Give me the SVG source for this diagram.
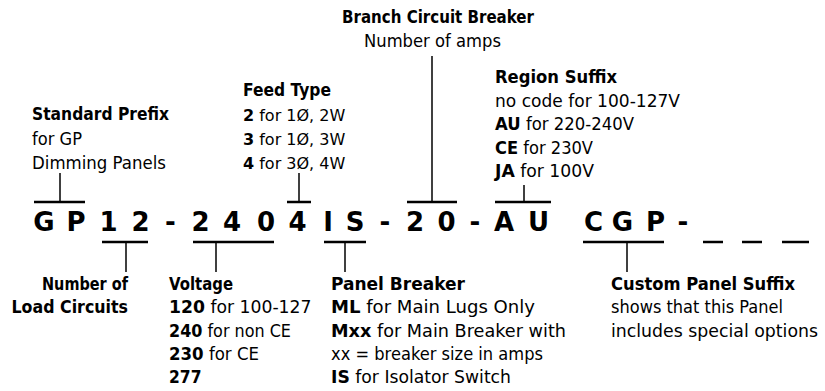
<svg xmlns="http://www.w3.org/2000/svg" width="825" height="391" viewBox="0 0 825 391">
<style>
text{font-family:"DejaVu Sans","Liberation Sans",sans-serif;font-size:17px;fill:#000}
.b{font-weight:bold}
.s{font-size:16px}
.code{font-family:"DejaVu Sans","Liberation Sans",sans-serif;font-size:26px;font-weight:bold;text-anchor:middle}
.bar{stroke:#000;stroke-width:2.5;fill:none}
.tick{stroke:#000;stroke-width:1.5;fill:none}
.r{text-anchor:end}
</style>
<rect width="825" height="391" fill="#fff"/>
<g id="connectors">
<line class="bar" x1="34" y1="202" x2="85" y2="202"/>
<line class="bar" x1="102" y1="242" x2="148" y2="242"/>
<line class="bar" x1="193" y1="242" x2="274" y2="242"/>
<line class="bar" x1="287" y1="202" x2="311" y2="202"/>
<line class="bar" x1="324" y1="242" x2="366" y2="242"/>
<line class="bar" x1="407" y1="202" x2="457" y2="202"/>
<line class="bar" x1="495" y1="202" x2="551" y2="202"/>
<line class="bar" x1="583" y1="242" x2="664" y2="242"/>
<line class="bar" x1="703" y1="242" x2="723" y2="242"/>
<line class="bar" x1="742" y1="242" x2="762" y2="242"/>
<line class="bar" x1="782" y1="242" x2="809" y2="242"/>
<line class="tick" x1="60" y1="173" x2="60" y2="202"/>
<line class="tick" x1="299" y1="173" x2="299" y2="202"/>
<line class="tick" x1="432" y1="56" x2="432" y2="202"/>
<line class="tick" x1="524" y1="185" x2="524" y2="202"/>
<line class="tick" x1="126" y1="242" x2="126" y2="272"/>
<line class="tick" x1="216" y1="242" x2="216" y2="272"/>
<line class="tick" x1="345" y1="242" x2="345" y2="272"/>
<line class="tick" x1="627" y1="242" x2="627" y2="272"/>
</g>
<g id="code">
<text class="code" x="44 76 108.5 140.5 170.5 200.5 232 266 297.5 328 355 385 415 446.5 475 504 538.5 593.5 622.5 655.5 683" y="231">GP12-2404IS-20-AUCGP-</text>
</g>
<g id="standard-prefix">
<text class="b" x="32" y="120" textLength="137" lengthAdjust="spacingAndGlyphs">Standard Prefix</text>
<text x="32" y="145" textLength="50" lengthAdjust="spacingAndGlyphs">for GP</text>
<text x="32" y="169" textLength="134" lengthAdjust="spacingAndGlyphs">Dimming Panels</text>
</g>
<g id="feed-type">
<text class="b" x="243" y="96" textLength="88" lengthAdjust="spacingAndGlyphs">Feed Type</text>
<text class="s" x="243" y="120.5"><tspan class="b">2</tspan> for 1Ø, 2W</text>
<text class="s" x="243" y="144.5"><tspan class="b">3</tspan> for 1Ø, 3W</text>
<text class="s" x="243" y="168.5"><tspan class="b">4</tspan> for 3Ø, 4W</text>
</g>
<g id="branch-circuit-breaker">
<text class="b" x="342" y="23" textLength="192" lengthAdjust="spacingAndGlyphs">Branch Circuit Breaker</text>
<text x="364" y="47" textLength="137" lengthAdjust="spacingAndGlyphs">Number of amps</text>
</g>
<g id="region-suffix">
<text class="b" x="495" y="83" textLength="122" lengthAdjust="spacingAndGlyphs">Region Suffix</text>
<text x="495" y="106.5" textLength="185" lengthAdjust="spacingAndGlyphs">no code for 100-127V</text>
<text x="495" y="130" textLength="139" lengthAdjust="spacingAndGlyphs"><tspan class="b">AU</tspan> for 220-240V</text>
<text x="495" y="153.5" textLength="98" lengthAdjust="spacingAndGlyphs"><tspan class="b">CE</tspan> for 230V</text>
<text x="495" y="177" textLength="99" lengthAdjust="spacingAndGlyphs"><tspan class="b">JA</tspan> for 100V</text>
</g>
<g id="load-circuits">
<text class="b r" x="128" y="290" textLength="86" lengthAdjust="spacingAndGlyphs">Number of</text>
<text class="b r" x="128" y="313" textLength="116.5" lengthAdjust="spacingAndGlyphs">Load Circuits</text>
</g>
<g id="voltage">
<text class="b" x="169" y="290" textLength="64" lengthAdjust="spacingAndGlyphs">Voltage</text>
<text x="169" y="313" textLength="142.5" lengthAdjust="spacingAndGlyphs"><tspan class="b">120</tspan> for 100-127</text>
<text x="169" y="336.5" textLength="122" lengthAdjust="spacingAndGlyphs"><tspan class="b">240</tspan> for non CE</text>
<text x="169" y="360" textLength="90" lengthAdjust="spacingAndGlyphs"><tspan class="b">230</tspan> for CE</text>
<text class="b" x="169" y="383" textLength="32.5" lengthAdjust="spacingAndGlyphs">277</text>
</g>
<g id="panel-breaker">
<text class="b" x="331" y="290" textLength="134" lengthAdjust="spacingAndGlyphs">Panel Breaker</text>
<text x="331" y="313" textLength="204" lengthAdjust="spacingAndGlyphs"><tspan class="b">ML</tspan> for Main Lugs Only</text>
<text x="331" y="336.5" textLength="235" lengthAdjust="spacingAndGlyphs"><tspan class="b">Mxx</tspan> for Main Breaker with</text>
<text x="331" y="360" textLength="212" lengthAdjust="spacingAndGlyphs">xx = breaker size in amps</text>
<text x="331" y="383" textLength="180" lengthAdjust="spacingAndGlyphs"><tspan class="b">IS</tspan> for Isolator Switch</text>
</g>
<g id="custom-panel-suffix">
<text class="b" x="611" y="290" textLength="184" lengthAdjust="spacingAndGlyphs">Custom Panel Suffix</text>
<text x="611" y="313" textLength="172" lengthAdjust="spacingAndGlyphs">shows that this Panel</text>
<text x="611" y="337" textLength="207" lengthAdjust="spacingAndGlyphs">includes special options</text>
</g>
</svg>
